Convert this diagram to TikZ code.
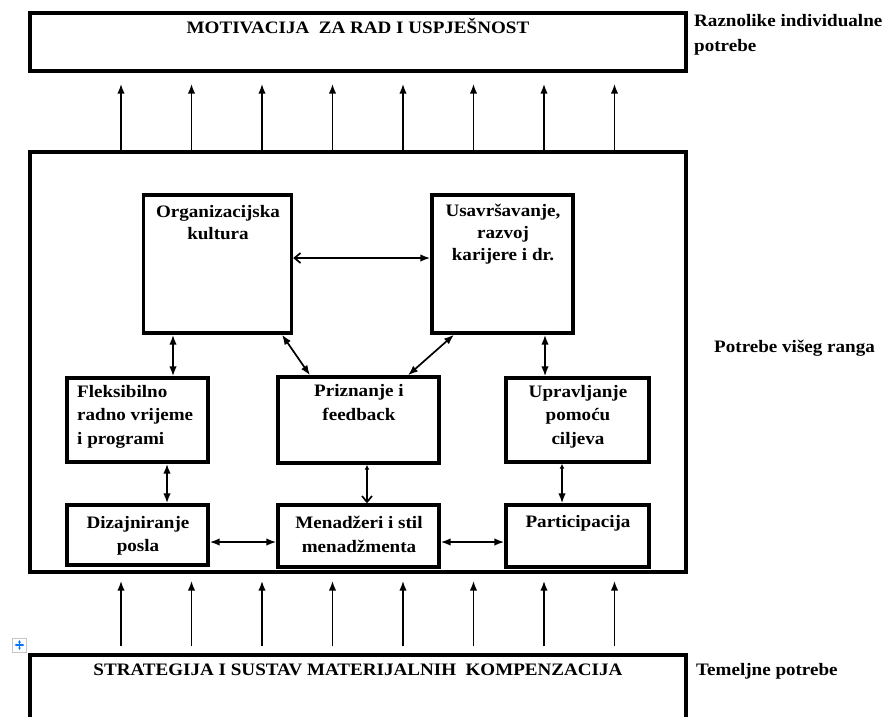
\documentclass[tikz,border=0pt]{standalone}
\usepackage{fontspec}
\setmainfont{Liberation Serif}[FakeStretch=1.09]
\usetikzlibrary{arrows.meta}
\begin{document}
\begin{tikzpicture}[x=1pt,y=-1pt,
  box/.style={draw, line width=3.4pt, inner sep=0pt},
  txt/.style={font=\bfseries\fontsize{17.5}{23}\selectfont, inner sep=0pt},
  up/.style={txt, align=center, anchor=north, font=\bfseries\fontsize{17.5}{22}\selectfont},
  lo/.style={txt, align=center, anchor=north, font=\bfseries\fontsize{17.5}{23.5}\selectfont},
  side/.style={txt, align=left, anchor=north west, font=\bfseries\fontsize{17.5}{25}\selectfont},
  tip/.tip={Latex[length=10pt,width=7.5pt]},
  small/.tip={Latex[length=5pt,width=5pt]},
  barb/.tip={Straight Barb[length=6pt,width=10pt,line width=1.7pt]},
  arr/.style={line width=1.8pt, -tip},
  darr/.style={line width=1.7pt, tip-tip},
]
\useasboundingbox (0,0) rectangle (889,716);

% big boxes
\node[box, minimum width=656pt, minimum height=58pt] (top) at (358,42) {};
\node[box, minimum width=656pt, minimum height=420pt] (main) at (358,362) {};
\node[box, minimum width=656pt, minimum height=85pt] (bot) at (358,697.5) {};

% inner boxes
\node[box, minimum width=148pt, minimum height=138pt] (org) at (217.5,264) {};
\node[box, minimum width=141pt, minimum height=138pt] (usav) at (502.5,264) {};
\node[box, minimum width=141pt, minimum height=84pt] (flek) at (137.5,420) {};
\node[box, minimum width=161pt, minimum height=86pt] (priz) at (358.5,420) {};
\node[box, minimum width=143pt, minimum height=84pt] (uprav) at (577.5,420) {};
\node[box, minimum width=141pt, minimum height=60pt] (diz) at (137.5,535) {};
\node[box, minimum width=161pt, minimum height=62pt] (men) at (358.5,536) {};
\node[box, minimum width=143pt, minimum height=62pt] (part) at (577.5,536) {};

% texts
\node[txt, anchor=base] (tTop) at (358,33) {MOTIVACIJA\ \ ZA RAD I USPJEŠNOST};
\node[txt, anchor=base] (tBot) at (358,675) {STRATEGIJA I SUSTAV MATERIJALNIH\ \ KOMPENZACIJA};
\node[side] (sTop) at (694,14) {Raznolike individualne\\potrebe};
\node[txt, anchor=base west] (sMid) at (714,352) {Potrebe višeg ranga};
\node[txt, anchor=base west] (sBot) at (696,675) {Temeljne potrebe};

\node[up] (tOrg) at (218,205) {Organizacijska\\kultura};
\node[up] (tUsav) at (503,204) {Usavršavanje,\\razvoj\\karijere i dr.};
\node[lo, align=left, anchor=north west] (tFlek) at (77,385) {Fleksibilno\\radno vrijeme\\i programi};
\node[lo] (tPriz) at (359,384.5) {Priznanje i\\feedback};
\node[lo] (tUprav) at (578,385) {Upravljanje\\pomoću\\ciljeva};
\node[lo] (tDiz) at (138,516) {Dizajniranje\\posla};
\node[lo] (tMen) at (359,516) {Menadžeri i stil\\menadžmenta};
\node[lo] (tPart) at (578,515) {Participacija};

% arrow columns
\foreach \i/\x in {1/121,2/191.5,3/262,4/332.5,5/403,6/473.5,7/544,8/614.5}{
  \coordinate (c\i) at (\x,0);
  \draw[arr, shorten >=11pt] (main.north -| c\i) -- (top.south -| c\i);
  \draw[arr, shorten <=7pt, shorten >=7pt] (bot.north -| c\i) -- (main.south -| c\i);
}

% inner connectors
\draw[line width=1.7pt, barb-tip] (org.east |- 0,258) -- (usav.west |- 0,258);
\coordinate (a1) at (173,0);
\draw[darr] (org.south -| a1) -- (flek.north -| a1);
\coordinate (a2) at (545,0);
\draw[darr] (usav.south -| a2) -- (uprav.north -| a2);
\coordinate (d1) at (282,0);
\coordinate (d2) at (310,0);
\draw[darr] (org.south -| d1) -- (priz.north -| d2);
\coordinate (d3) at (454,0);
\coordinate (d4) at (408,0);
\draw[darr] (usav.south -| d3) -- (priz.north -| d4);
\coordinate (a3) at (167,0);
\draw[darr] (flek.south -| a3) -- (diz.north -| a3);
\coordinate (a4) at (367,0);
\draw[line width=1.7pt, small-barb] (priz.south -| a4) -- (men.north -| a4);
\coordinate (a5) at (562,0);
\draw[line width=1.7pt, small-tip] (uprav.south -| a5) -- (part.north -| a5);
\coordinate (h) at (0,542);
\draw[darr] (diz.east |- h) -- (men.west |- h);
\draw[darr] (men.east |- h) -- (part.west |- h);

% move handle icon
\node[draw=gray!45, fill=white, line width=0.6pt, minimum size=14pt, inner sep=0pt] (icon) at (19.5,645) {};
\draw[draw=blue!55!cyan, line width=1.1pt, {Latex[length=2.5pt,width=3pt]}-{Latex[length=2.5pt,width=3pt]}] ([xshift=-5pt]icon.center) -- ([xshift=5pt]icon.center);
\draw[draw=blue!55!cyan, line width=1.1pt, {Latex[length=2.5pt,width=3pt]}-{Latex[length=2.5pt,width=3pt]}] ([yshift=-5pt]icon.center) -- ([yshift=5pt]icon.center);
\end{tikzpicture}
\end{document}
